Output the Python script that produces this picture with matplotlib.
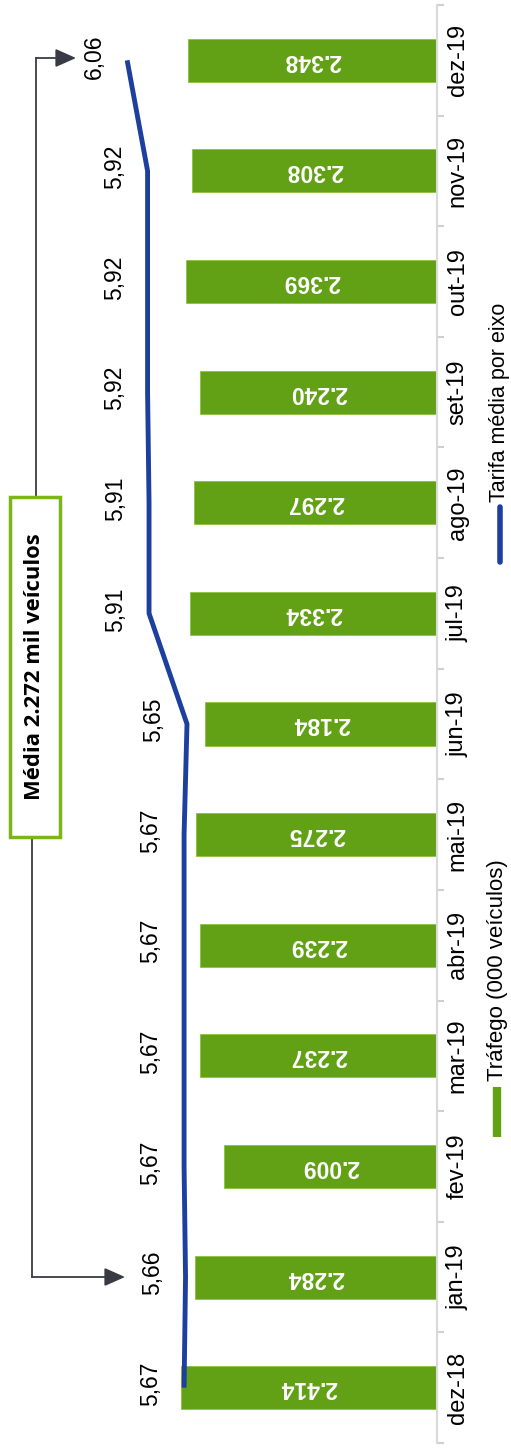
import matplotlib
matplotlib.use("Agg")
import matplotlib.pyplot as plt
from matplotlib.patches import Rectangle, FancyArrowPatch
from matplotlib.lines import Line2D
import numpy as np

plt.rcParams['font.family'] = ['Liberation Sans', 'DejaVu Sans']

# Monthly data
months = ["dez-18", "jan-19", "fev-19", "mar-19", "abr-19", "mai-19", "jun-19",
          "jul-19", "ago-19", "set-19", "out-19", "nov-19", "dez-19"]
traffic = [2414, 2284, 2009, 2237, 2239, 2275, 2184, 2334, 2297, 2240, 2369, 2308, 2348]
tariff = [5.67, 5.66, 5.67, 5.67, 5.67, 5.67, 5.65, 5.91, 5.91, 5.92, 5.92, 5.92, 6.06]
average_text = "Média 2.272 mil veículos"
legend_traffic = "Tráfego (000 veículos)"
legend_tariff = "Tarifa média por eixo"

GREEN = "#62a016"
BLUE = "#1d3f9e"
W, H = 511, 1450
DPI = 100

fig = plt.figure(figsize=(W / DPI, H / DPI), dpi=DPI)
fig.patch.set_facecolor("white")


def fx(px):
    return px / W


def fy(py):
    return 1 - py / H


# Main axes: bars grow leftwards from the category axis on the right
ax_left, ax_right, ax_top, ax_bot = 0, 437, 5, 1443
ax = fig.add_axes([fx(ax_left), fy(ax_bot), (ax_right - ax_left) / W, (ax_bot - ax_top) / H])
idx = np.arange(len(months))
ax.barh(idx, traffic, height=0.39, color=GREEN, edgecolor="#8cc43a", linewidth=0.6)
ax.set_xlim((ax_right - ax_left) / 0.106, 0)
ax.set_ylim(-0.5, len(months) - 0.5)

for i, v in zip(idx, traffic):
    ax.text(v / 2, i, f"{v:,}".replace(",", "."), rotation=180, color="white",
            fontsize=16.5, fontweight="bold", ha="center", va="center")

for s in ["left", "top", "bottom"]:
    ax.spines[s].set_visible(False)
ax.spines["right"].set_color("#d9d9d9")
ax.spines["right"].set_linewidth(1.5)
ax.set_xticks([])
ax.yaxis.tick_right()
ax.set_yticks(idx, labels=months)
ax.set_yticks(np.arange(-0.5, len(months)), minor=True)
ax.tick_params(axis="y", which="major", length=0, pad=7, labelsize=17)
ax.tick_params(axis="y", which="minor", length=5, color="#d0d0d0", width=1.5)
for lab in ax.get_yticklabels():
    lab.set_rotation(90)
    lab.set_va("center")
ax.set_facecolor("none")

# Secondary axis for the tariff line
ax2 = ax.twiny()
px_per_unit = 146.0
v_ref, x_ref = 5.65, 187.0
ax2.set_xlim(v_ref + (x_ref - ax_left) / px_per_unit, v_ref - (ax_right - x_ref) / px_per_unit)
ax2.set_ylim(ax.get_ylim())
ax2.axis("off")
ax2.plot(tariff, idx, color=BLUE, lw=3.5, solid_capstyle="butt", solid_joinstyle="round")
for i, v in zip(idx, tariff):
    ax2.annotate(f"{v:.2f}".replace(".", ","), (v, i), xytext=(-33, 4),
                 textcoords="offset pixels", rotation=90, ha="center", va="center",
                 fontsize=16.5)

# Average box with connectors
box = Rectangle((fx(10), fy(837)), fx(60) - fx(10), fy(497) - fy(837),
                transform=fig.transFigure, facecolor="white", edgecolor="#7cb518",
                linewidth=2.5, zorder=5)
fig.add_artist(box)
fig.text(fx(35), fy(667), average_text, rotation=90, ha="center", va="center",
         fontsize=15.8, fontweight="bold", family=["Open Sans", "DejaVu Sans"], zorder=6)

ARROW = "#3a3a44"
fig.add_artist(Line2D([fx(36), fx(36)], [fy(497), fy(58)], color=ARROW, lw=1.3,
                      transform=fig.transFigure))
fig.add_artist(FancyArrowPatch((fx(36), fy(58)), (fx(76), fy(58)), transform=fig.transFigure,
                               arrowstyle="-|>,head_length=0.9,head_width=0.4",
                               mutation_scale=14, color=ARROW, lw=1.3, shrinkA=0, shrinkB=0))
fig.add_artist(Line2D([fx(32), fx(32)], [fy(837), fy(1277)], color=ARROW, lw=1.3,
                      transform=fig.transFigure))
fig.add_artist(FancyArrowPatch((fx(32), fy(1277)), (fx(125), fy(1277)), transform=fig.transFigure,
                               arrowstyle="-|>,head_length=0.9,head_width=0.4",
                               mutation_scale=14, color=ARROW, lw=1.3, shrinkA=0, shrinkB=0))

# Legend (rotated)
fig.add_artist(Line2D([fx(497), fx(497)], [fy(1087), fy(1137)], color=GREEN, lw=6,
                      transform=fig.transFigure, solid_capstyle="butt"))
fig.text(fx(497), fy(970), legend_traffic, rotation=90, ha="center", va="center", fontsize=16)
fig.add_artist(Line2D([fx(500), fx(500)], [fy(507), fy(562)], color=BLUE, lw=4,
                      transform=fig.transFigure, solid_capstyle="round"))
fig.text(fx(499), fy(402), legend_tariff, rotation=90, ha="center", va="center", fontsize=15.5)

fig.savefig("out.png", dpi=DPI, facecolor="white")
